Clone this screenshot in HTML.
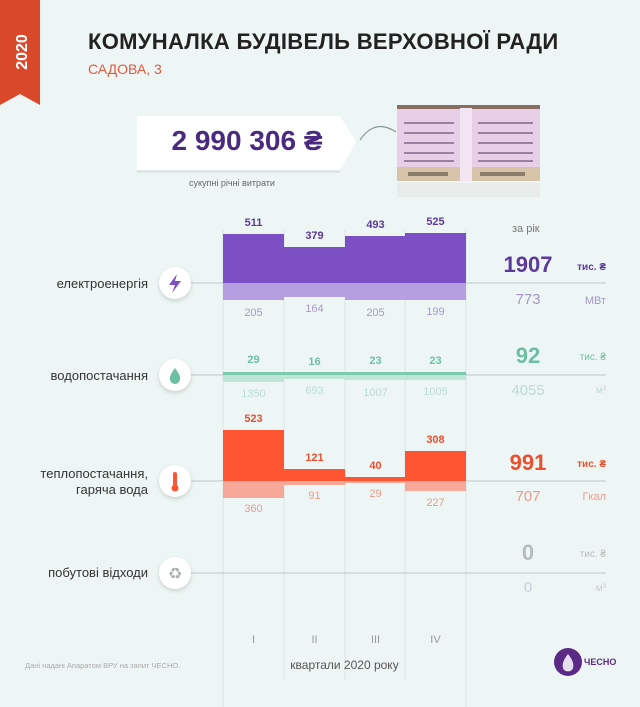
<!DOCTYPE html>
<html><head><meta charset="utf-8"><style>
body{margin:0;width:640px;height:707px;background:#eef6f5;font-family:"Liberation Sans","DejaVu Sans",sans-serif;overflow:hidden;position:relative}
.a{position:absolute;white-space:nowrap}
</style></head><body>
<svg class="a" style="left:0;top:0" width="640" height="707">
<polygon points="0,0 40,0 40,105 20,94 0,105" fill="#d9482b"/>
<text x="27" y="52" transform="rotate(-90 27 52)" text-anchor="middle" fill="#fff" font-weight="bold" font-size="16" font-family="Liberation Sans">2020</text>
<polygon points="137,116 340,116 356,142 340,170 137,170" fill="#fff"/>
<rect x="137" y="170" width="203" height="3" fill="#dde6e5"/>
<path d="M396,132 Q375,118 360,140" fill="none" stroke="#8a9a99" stroke-width="1.2"/>
<rect x="397" y="105" width="143" height="4" fill="#8b6e63"/>
<rect x="397" y="109" width="143" height="58" fill="#e8cfe8"/>
<rect x="397" y="167" width="143" height="14" fill="#d6c3a8"/>
<rect x="460" y="108" width="12" height="73" fill="#f3e6f2"/>
<g fill="#9c7fa0">
<rect x="404" y="122" width="50" height="2"/><rect x="404" y="132" width="50" height="2"/><rect x="404" y="142" width="50" height="2"/><rect x="404" y="152" width="50" height="2"/><rect x="404" y="160" width="50" height="2"/>
<rect x="478" y="122" width="55" height="2"/><rect x="478" y="132" width="55" height="2"/><rect x="478" y="142" width="55" height="2"/><rect x="478" y="152" width="55" height="2"/><rect x="478" y="160" width="55" height="2"/>
</g>
<g fill="#8b7b6a"><rect x="408" y="172" width="40" height="4"/><rect x="480" y="172" width="45" height="4"/></g>
<rect x="397" y="183" width="143" height="14" fill="#e2e6e3" opacity=".6"/>
<g stroke="#d9e3e2" stroke-width="1">
<line x1="223" y1="230" x2="223" y2="707"/><line x1="284" y1="230" x2="284" y2="680"/><line x1="345" y1="230" x2="345" y2="680"/><line x1="405" y1="230" x2="405" y2="680"/><line x1="466" y1="230" x2="466" y2="707"/>
</g>
<g stroke="#c4d1d0" stroke-width="1.3">
<line x1="180" y1="283" x2="606" y2="283"/><line x1="180" y1="375" x2="606" y2="375"/><line x1="180" y1="481" x2="606" y2="481"/><line x1="180" y1="573" x2="606" y2="573"/>
</g>
<g fill="#7c4fc4">
<rect x="223" y="234" width="61" height="49"/><rect x="284" y="247" width="61" height="36"/><rect x="345" y="236" width="60" height="47"/><rect x="405" y="233" width="61" height="50"/>
</g>
<g fill="#b59fe0">
<rect x="223" y="283" width="61" height="17"/><rect x="284" y="283" width="61" height="14"/><rect x="345" y="283" width="60" height="17"/><rect x="405" y="283" width="61" height="17"/>
</g>
<g fill="#7cc9ad"><rect x="223" y="372" width="243" height="3"/></g>
<g fill="#bfe5d6"><rect x="223" y="375" width="61" height="7"/><rect x="284" y="375" width="61" height="4"/><rect x="345" y="375" width="60" height="5"/><rect x="405" y="375" width="61" height="5"/></g>
<g fill="#ff5533">
<rect x="223" y="430" width="61" height="51"/><rect x="284" y="469" width="61" height="12"/><rect x="345" y="477" width="60" height="4"/><rect x="405" y="451" width="61" height="30"/>
</g>
<g fill="#f7a898">
<rect x="223" y="481" width="61" height="17"/><rect x="284" y="481" width="61" height="4"/><rect x="345" y="481" width="60" height="2"/><rect x="405" y="481" width="61" height="10"/>
</g>
<g fill="#fff" style="filter:drop-shadow(0 2px 2px rgba(0,0,0,.15))">
<circle cx="175" cy="283" r="16"/><circle cx="175" cy="375" r="16"/><circle cx="175" cy="481" r="16"/><circle cx="175" cy="573" r="16"/>
</g>
<polygon points="177,274 169,285 175,285 172,293 181,281 175,281" fill="#7c4fc4"/>
<path d="M175,368 Q169,376 170,379 A5,5 0 0 0 180,379 Q181,376 175,368Z" fill="#6cbfa3"/>
<rect x="173" y="472" width="4" height="14" rx="2" fill="#ff5533"/><circle cx="175" cy="488" r="3.5" fill="#ff5533"/>
<text x="175" y="579" text-anchor="middle" font-size="16" fill="#aab3b2" font-family="DejaVu Sans">♻</text>
<circle cx="568" cy="662" r="14" fill="#5b2a86"/>
<path d="M568,654 Q560,664 564,670 Q568,673 572,670 Q576,664 568,654Z" fill="#fff" opacity=".85"/>
</svg>

<div class="a" style="left:88px;top:29px;font-size:22px;font-weight:bold;color:#222;letter-spacing:.3px">КОМУНАЛКА БУДІВЕЛЬ ВЕРХОВНОЇ РАДИ</div>
<div class="a" style="left:88px;top:61px;font-size:14px;color:#e05a40">САДОВА, 3</div>
<div class="a" style="left:137px;top:125px;width:220px;text-align:center;font-size:28px;font-weight:bold;color:#4a2a80">2 990 306 ₴</div>
<div class="a" style="left:137px;top:178px;width:190px;text-align:center;font-size:9px;color:#666">сукупні річні витрати</div>

<div class="a" style="right:492px;top:276px;font-size:13px;color:#333">електроенергія</div>
<div class="a" style="right:492px;top:368px;font-size:13px;color:#333">водопостачання</div>
<div class="a" style="right:492px;top:466px;font-size:13px;color:#333;text-align:right;line-height:16px">теплопостачання,<br>гаряча вода</div>
<div class="a" style="right:492px;top:565px;font-size:13px;color:#333">побутові відходи</div>

<style>.q{position:absolute;width:61px;text-align:center;font-size:11px}.b{font-weight:bold}</style>
<div class="q b" style="left:223px;top:217px;color:#5b3a9a">511</div>
<div class="q b" style="left:284px;top:230px;color:#5b3a9a">379</div>
<div class="q b" style="left:345px;top:219px;color:#5b3a9a">493</div>
<div class="q b" style="left:405px;top:216px;color:#5b3a9a">525</div>
<div class="q" style="left:223px;top:307px;color:#a697c8">205</div>
<div class="q" style="left:284px;top:303px;color:#a697c8">164</div>
<div class="q" style="left:345px;top:307px;color:#a697c8">205</div>
<div class="q" style="left:405px;top:306px;color:#a697c8">199</div>
<div class="q b" style="left:223px;top:354px;color:#6cbfa3">29</div>
<div class="q b" style="left:284px;top:356px;color:#6cbfa3">16</div>
<div class="q b" style="left:345px;top:355px;color:#6cbfa3">23</div>
<div class="q b" style="left:405px;top:355px;color:#6cbfa3">23</div>
<div class="q" style="left:223px;top:388px;color:#bcdcd2">1350</div>
<div class="q" style="left:284px;top:385px;color:#bcdcd2">693</div>
<div class="q" style="left:345px;top:387px;color:#bcdcd2">1007</div>
<div class="q" style="left:405px;top:386px;color:#bcdcd2">1005</div>
<div class="q b" style="left:223px;top:413px;color:#e8502f">523</div>
<div class="q b" style="left:284px;top:452px;color:#e8502f">121</div>
<div class="q b" style="left:345px;top:460px;color:#e8502f">40</div>
<div class="q b" style="left:405px;top:434px;color:#e8502f">308</div>
<div class="q" style="left:223px;top:503px;color:#eb9a88">360</div>
<div class="q" style="left:284px;top:490px;color:#eb9a88">91</div>
<div class="q" style="left:345px;top:488px;color:#eb9a88">29</div>
<div class="q" style="left:405px;top:497px;color:#eb9a88">227</div>

<div class="a" style="left:512px;top:223px;font-size:11px;color:#777">за рік</div>
<style>.t{position:absolute;width:80px;left:488px;text-align:center}.u{position:absolute;right:34px;font-size:10px;text-align:right}</style>
<div class="t b" style="top:252px;font-size:22px;color:#5b3a9a">1907</div>
<div class="u b" style="top:262px;color:#5b3a9a">тис. ₴</div>
<div class="t" style="top:291px;font-size:15px;color:#a697c8">773</div>
<div class="u" style="top:295px;color:#a697c8;font-size:11px">МВт</div>
<div class="t b" style="top:343px;font-size:22px;color:#6cbfa3">92</div>
<div class="u" style="top:352px;color:#6cbfa3">тис. ₴</div>
<div class="t" style="top:382px;font-size:15px;color:#bcdcd2">4055</div>
<div class="u" style="top:385px;color:#bcdcd2">м³</div>
<div class="t b" style="top:450px;font-size:22px;color:#e8502f">991</div>
<div class="u b" style="top:459px;color:#e8502f">тис. ₴</div>
<div class="t" style="top:488px;font-size:15px;color:#eb9a88">707</div>
<div class="u" style="top:491px;color:#eb9a88;font-size:11px">Гкал</div>
<div class="t b" style="top:540px;font-size:22px;color:#b8bcbc">0</div>
<div class="u" style="top:549px;color:#bbb">тис. ₴</div>
<div class="t" style="top:579px;font-size:15px;color:#ccd">0</div>
<div class="u" style="top:583px;color:#ccc">м³</div>

<div class="q" style="left:223px;top:634px;color:#999">I</div>
<div class="q" style="left:284px;top:634px;color:#999">II</div>
<div class="q" style="left:345px;top:634px;color:#999">III</div>
<div class="q" style="left:405px;top:634px;color:#999">IV</div>
<div class="a" style="left:223px;width:243px;text-align:center;top:658px;font-size:12px;color:#555">квартали 2020 року</div>
<div class="a" style="left:25px;top:661px;font-size:7.5px;color:#aaa">Дані надані Апаратом ВРУ на запит ЧЕСНО.</div>
<div class="a" style="left:584px;top:657px;font-size:9px;font-weight:bold;color:#5b2a86">ЧЕСНО</div>
</body></html>
